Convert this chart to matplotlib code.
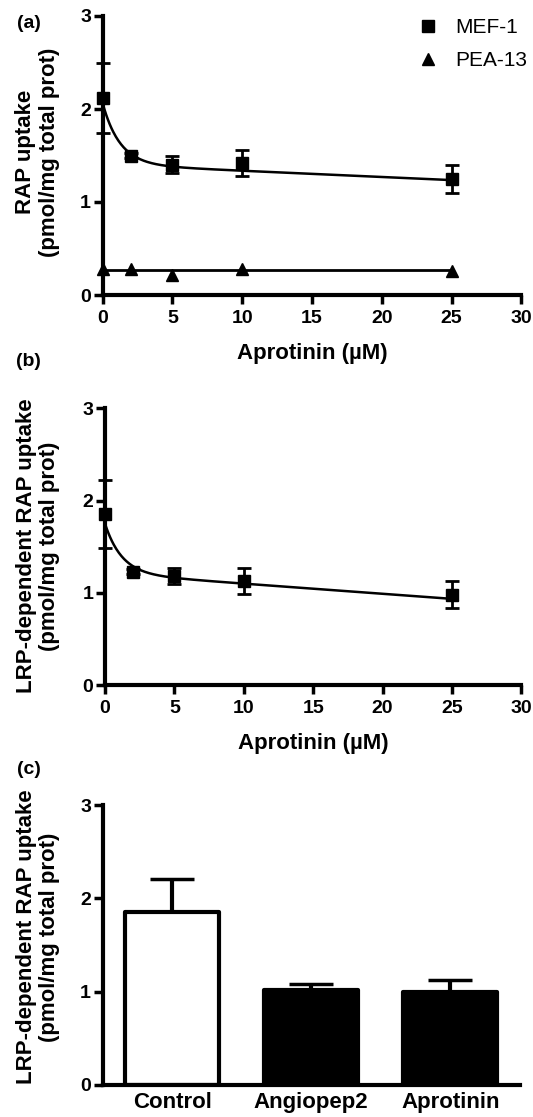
import numpy as np
import matplotlib
matplotlib.use("Agg")
import matplotlib.pyplot as plt
from matplotlib.lines import Line2D

plt.rcParams['font.family'] = ['Liberation Sans', 'DejaVu Sans']

# ---------------- data ----------------
conc = [0, 2, 5, 10, 25]
mef_mean = [2.12, 1.50, 1.40, 1.42, 1.25]
mef_err = [0.38, 0.03, 0.09, 0.14, 0.15]
pea_mean = [0.28, 0.28, 0.22, 0.28, 0.26]
pea_fit_level = 0.27
# fit parameters (plateau + slope*x + span*exp(-k x))
mef_fit = dict(plateau=1.403, slope=-0.0067, span=0.657, k=0.81)

lrp_mean = [1.85, 1.23, 1.18, 1.13, 0.98]
lrp_err = [0.37, 0.03, 0.09, 0.14, 0.15]
lrp_fit = dict(plateau=1.209, slope=-0.011, span=0.54, k=0.83)

bar_cats = ['Control', 'Angiopep2', 'Aprotinin']
bar_vals = [1.85, 1.02, 0.99]
bar_err = [0.36, 0.06, 0.13]
bar_colors = ['white', 'black', 'black']

W, H = 533, 1117
fig = plt.figure(figsize=(W / 100, H / 100), dpi=100)


def axes_px(left, right, top, bottom):
    return fig.add_axes([left / W, 1 - bottom / H, (right - left) / W, (bottom - top) / H])


SP_LW = 3.0
TICK_FS = 14
LAB_FS = 16


def style(ax):
    for s in ['top', 'right']:
        ax.spines[s].set_visible(False)
    for s in ['left', 'bottom']:
        ax.spines[s].set_linewidth(SP_LW)
        ax.spines[s].set_capstyle('projecting')
    ax.tick_params(axis='both', width=2.5, length=6.5, labelsize=TICK_FS)
    ax.tick_params(axis='y', pad=2)
    ax.tick_params(axis='x', pad=4)
    for lab in ax.get_xticklabels() + ax.get_yticklabels():
        lab.set_fontweight('bold')


def fit_curve(p, x):
    x = np.asarray(x, dtype=float)
    return p['plateau'] + p['slope'] * x + p['span'] * np.exp(-p['k'] * x)


# ---------------- panel (a) ----------------
axa = axes_px(102.7, 521.3, 16, 295)
xs = np.linspace(0, max(conc), 400)
axa.plot(xs, fit_curve(mef_fit, xs), color='black', lw=1.8, clip_on=False)
axa.errorbar(conc, mef_mean, yerr=mef_err, fmt='s', color='black', ms=8,
             capsize=5, elinewidth=2, capthick=2, clip_on=False, zorder=3)
axa.plot([0, max(conc)], [pea_fit_level, pea_fit_level], color='black', lw=2, clip_on=False)
axa.plot(conc, pea_mean, '^', color='black', ms=8, clip_on=False, zorder=3)
axa.set_xlim(0, 30)
axa.set_ylim(0, 3)
axa.set_xticks([0, 5, 10, 15, 20, 25, 30])
axa.set_yticks([0, 1, 2, 3])
style(axa)

handles = [Line2D([], [], marker='s', ls='none', color='black', ms=8),
           Line2D([], [], marker='^', ls='none', color='black', ms=8)]
fig.legend(handles, ['MEF-1', 'PEA-13'], loc='upper left',
           bbox_to_anchor=(417.3 / W, 1 - 18 / H), bbox_transform=fig.transFigure,
           frameon=False, fontsize=15, handlelength=1.0, handletextpad=0.81,
           labelspacing=0.68, borderpad=0, borderaxespad=0)

# ---------------- panel (b) ----------------
axb = axes_px(105, 521.3, 408.3, 685)
axb.plot(xs, fit_curve(lrp_fit, xs), color='black', lw=1.8, clip_on=False)
axb.errorbar(conc, lrp_mean, yerr=lrp_err, fmt='s', color='black', ms=8,
             capsize=5, elinewidth=2, capthick=2, clip_on=False, zorder=3)
axb.set_xlim(0, 30)
axb.set_ylim(0, 3)
axb.set_xticks([0, 5, 10, 15, 20, 25, 30])
axb.set_yticks([0, 1, 2, 3])
style(axb)

# ---------------- panel (c) ----------------
axc = axes_px(102.7, 519.7, 805, 1084.8)
pos = np.arange(len(bar_cats))
axc.bar(pos, bar_vals, width=0.68, color=bar_colors, edgecolor='black', linewidth=3,
        joinstyle='round', zorder=2)
axc.errorbar(pos, bar_vals, yerr=[[0] * len(bar_err), bar_err], fmt='none', ecolor='black',
             capsize=16, elinewidth=3, capthick=2.5, zorder=1)
axc.set_xlim(-0.5, 2.5)
axc.set_ylim(0, 3)
axc.set_yticks([0, 1, 2, 3])
axc.set_xticks(pos)
axc.set_xticklabels(bar_cats)
style(axc)
axc.tick_params(axis='x', length=0, pad=5.5, labelsize=16)
for lab in axc.get_xticklabels():
    lab.set_fontweight('bold')

# ---------------- labels ----------------
fig.text(37.5 / W, 1 - 152 / H, 'RAP uptake\n(pmol/mg total prot)', rotation=90,
         ha='center', va='center', multialignment='center', fontsize=LAB_FS,
         fontweight='bold', linespacing=1.15)
fig.text(38 / W, 1 - 546 / H, 'LRP-dependent RAP uptake\n(pmol/mg total prot)', rotation=90,
         ha='center', va='center', multialignment='center', fontsize=LAB_FS,
         fontweight='bold', linespacing=1.15)
fig.text(38 / W, 1 - 937 / H, 'LRP-dependent RAP uptake\n(pmol/mg total prot)', rotation=90,
         ha='center', va='center', multialignment='center', fontsize=LAB_FS,
         fontweight='bold', linespacing=1.15)

fig.text(312 / W, 1 - 353 / H, 'Aprotinin (µM)', ha='center', va='center',
         fontsize=LAB_FS, fontweight='bold')
fig.text(313 / W, 1 - 743 / H, 'Aprotinin (µM)', ha='center', va='center',
         fontsize=LAB_FS, fontweight='bold')

for txt, y in [('(a)', 23), ('(b)', 362), ('(c)', 769)]:
    fig.text(28.5 / W, 1 - y / H, txt, ha='center', va='center', fontsize=14,
             fontweight='bold')

fig.savefig('out.png', dpi=100)
